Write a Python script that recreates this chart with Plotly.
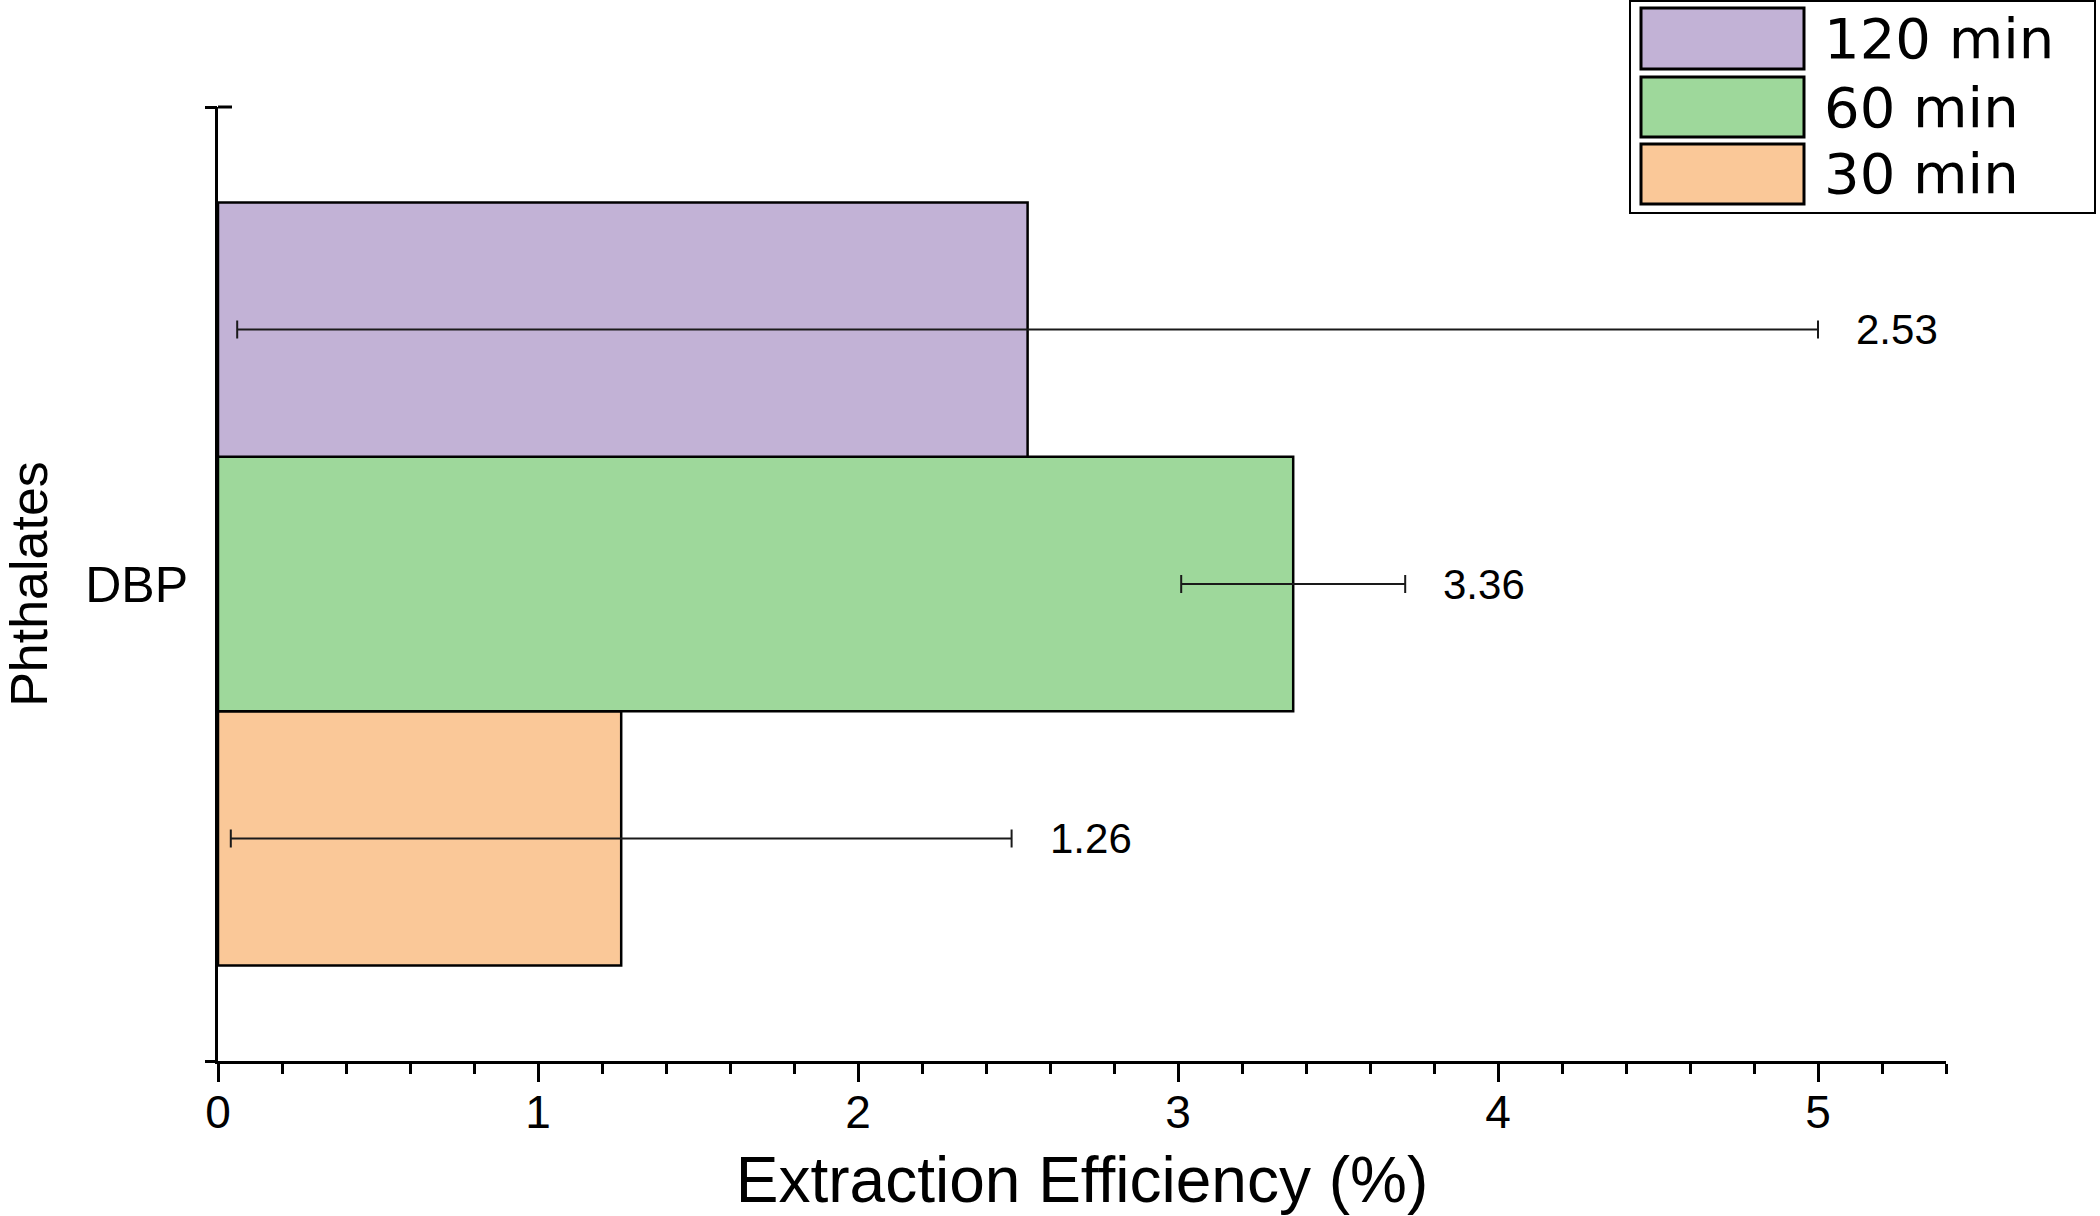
import plotly.graph_objects as go

# ---- data ----
categories = ["DBP"]
series_names = ["30 min", "60 min", "120 min"]
series_values = [1.26, 3.36, 2.53]
series_errors = [1.22, 0.35, 2.47]
series_colors = ["#FAC898", "#9ED89B", "#C2B2D6"]
x_tick_vals = [0, 1, 2, 3, 4, 5]
x_tick_text = ["0", "1", "2", "3", "4", "5"]

W, H = 2100, 1216
L, R, T, B = 218, 154, 107, 155
PW, PH = W - L - R, H - T - B
FONT = "Liberation Sans, Arial, sans-serif"
LEGEND_FONT = "DejaVu Sans, Liberation Sans, Arial, sans-serif"
BARGAP = 0.2


def px(x):
    return (x - L) / PW


def py(y):
    return (H - B - y) / PH


fig = go.Figure()
n = len(series_names)
for name, v, e, c in zip(series_names, series_values, series_errors, series_colors):
    fig.add_trace(go.Bar(
        y=categories, x=[v], name=name, orientation="h",
        marker=dict(color=c, line=dict(color="black", width=2.5)),
        error_x=dict(type="data", array=[e], visible=True, color="#1a1a1a",
                     thickness=2, width=9),
        showlegend=False,
    ))

# value labels after the error bars
slot = (1 - BARGAP) / n
for i, (v, e) in enumerate(zip(series_values, series_errors)):
    fig.add_annotation(
        x=v + e, y=(i - (n - 1) / 2) * slot, xref="x", yref="y",
        text=f"{v:.2f}", showarrow=False, xanchor="left", yanchor="middle",
        xshift=36, font=dict(family=FONT, size=42, color="black"),
    )

# empty trace so the overlay tick axis is drawn
fig.add_trace(go.Scatter(x=[], y=[], yaxis="y2", showlegend=False))

# right half of the crossing cap at the top of the y axis
fig.add_shape(type="line", xref="paper", yref="paper",
              x0=px(218), x1=px(232), y0=1, y1=1,
              line=dict(color="black", width=3), layer="above")

# custom legend (large swatches like the original)
legend_rows = [(8, 69), (77, 137), (144, 204)]
fig.add_shape(type="rect", xref="paper", yref="paper",
              x0=px(1630), x1=px(2095), y0=py(213), y1=py(1),
              line=dict(color="black", width=2), fillcolor="white", layer="above")
for (y0, y1), name, c in zip(legend_rows, series_names[::-1], series_colors[::-1]):
    fig.add_shape(type="rect", xref="paper", yref="paper",
                  x0=px(1641), x1=px(1804), y0=py(y1), y1=py(y0),
                  line=dict(color="black", width=3), fillcolor=c, layer="above")
    fig.add_annotation(x=px(1822), y=py((y0 + y1) / 2), xref="paper", yref="paper",
                       text=name, showarrow=False, xanchor="left", yanchor="middle",
                       font=dict(family=LEGEND_FONT, size=56, color="black"))

fig.update_layout(
    width=W, height=H,
    margin=dict(l=L, r=R, t=T, b=B, pad=0),
    paper_bgcolor="white", plot_bgcolor="white",
    barmode="group", bargap=BARGAP, bargroupgap=0,
    font=dict(family=FONT, color="black"),
    xaxis=dict(
        range=[0, 5.4], tickvals=x_tick_vals, ticktext=x_tick_text,
        ticks="outside", ticklen=18, tickwidth=3, tickcolor="black",
        minor=dict(dtick=0.2, tick0=0, ticks="outside", ticklen=10, tickwidth=3,
                   tickcolor="black", showgrid=False),
        showline=True, linewidth=3, linecolor="black", showgrid=False, zeroline=False,
        tickfont=dict(family=FONT, size=46, color="black"),
        ticklabelstandoff=-9,
        title=dict(text="Extraction Efficiency (%)", standoff=60,
                   font=dict(family=FONT, size=64, color="black")),
        automargin=False,
    ),
    yaxis=dict(
        type="category", range=[-0.5, 0.5],
        tickvals=categories, ticktext=categories,
        ticks="", showline=True, linewidth=3, linecolor="black",
        showgrid=False, zeroline=False,
        tickfont=dict(family=FONT, size=50, color="black"),
        ticklabelstandoff=17,
        title=dict(text="Phthalates", standoff=46,
                   font=dict(family=FONT, size=52, color="black")),
        automargin=False,
    ),
    yaxis2=dict(overlaying="y", anchor="x", side="left", range=[-0.5, 0.5],
                tickvals=[-0.5, 0.5], ticks="outside", ticklen=12, tickwidth=3,
                tickcolor="black", showticklabels=False, showline=False,
                showgrid=False, zeroline=False),
)

fig.write_html("out.html", config={"displayModeBar": False},
               post_script="document.body.style.margin='0';")
